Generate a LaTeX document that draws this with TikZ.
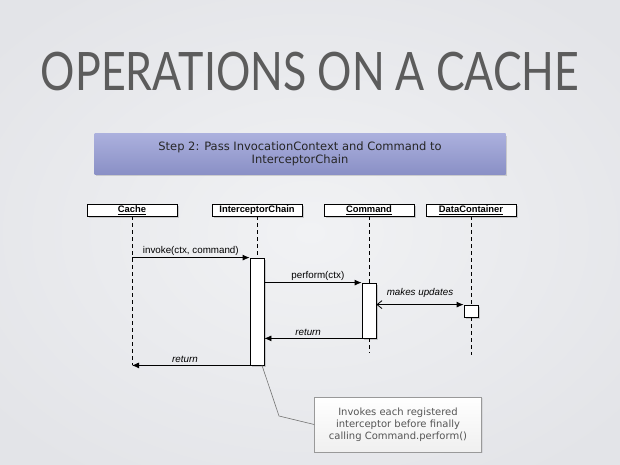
\documentclass[tikz,border=0pt]{standalone}
\usepackage{fontspec}
\setmainfont{DejaVu Sans}
\newfontfamily\titlefont{Lato}
\newfontfamily\arialfont{Liberation Sans}
\usetikzlibrary{positioning, arrows.meta, shadows}
\definecolor{slidebg}{HTML}{E3E4E8}
\definecolor{slidemid}{HTML}{F1F2F4}
\definecolor{bannertop}{HTML}{ABB0DD}
\definecolor{bannerbot}{HTML}{8A90C6}
\definecolor{titlegray}{HTML}{5C5C5C}
\definecolor{notegray}{HTML}{555555}
\tikzset{
  objbox/.style={rectangle, draw=black, line width=0.9pt, fill=white, minimum width=90pt, minimum height=12pt, inner sep=0pt, text height=7pt, text depth=2pt, font=\arialfont\bfseries\fontsize{9.4}{10}\selectfont, drop shadow={shadow xshift=1.5pt, shadow yshift=-2pt, opacity=0.35}},
  actbox/.style={rectangle, draw=black, line width=0.8pt, fill=white, minimum width=14pt, inner sep=0pt, drop shadow={shadow xshift=2pt, shadow yshift=-2pt, opacity=0.35}},
  lifeline/.style={black, line width=0.7pt, dash pattern=on 4pt off 3pt},
  msg/.style={black, line width=0.8pt, -{Latex[length=7pt, width=6pt]}},
  msglabel/.style={midway, above, inner sep=2pt, font=\arialfont\fontsize{9.8}{10}\selectfont},
  notebox/.style={rectangle, draw=gray!80, line width=0.6pt, top color=white, bottom color=gray!12, minimum width=167pt, minimum height=55pt, align=center, text=notegray, font=\fontsize{10}{12}\selectfont},
  noteline/.style={gray!90!black, line width=0.6pt}
}

\begin{document}
\begin{tikzpicture}[x=1pt, y=-1pt]

    % Fondo de la diapositiva
    \useasboundingbox (0,0) rectangle (620,465);
    \fill[slidebg] (0,0) rectangle (620,465);
    \shade[inner color=slidemid, outer color=slidebg] (-100,-60) rectangle (720,525);

    % Titulo
    \node[font=\titlefont\fontsize{53}{53}\selectfont, text=titlegray, xscale=0.81] (title) at (310,72) {OPERATIONS ON A CACHE};

    % Banda del paso
    \node[rectangle, minimum width=411pt, minimum height=40pt, top color=bannertop, bottom color=bannerbot, align=center, font=\fontsize{11.5}{13.5}\selectfont, text=black!85, drop shadow={shadow xshift=1.5pt, shadow yshift=-2pt, opacity=0.3}] (banner) at (300,154) {Step 2: Pass InvocationContext and Command to\\InterceptorChain};

    % Cabeceras de los objetos
    \node[objbox] (cache) at (132,210) {\underline{Cache}};
    \node[objbox] (ic) at (257,210) {\underline{InterceptorChain}};
    \node[objbox] (cmd) at (369,210) {\underline{Command}};
    \node[objbox] (dc) at (471,210) {\underline{DataContainer}};

    % Activaciones
    \node[actbox, minimum height=107pt] (icAct) at (257,311.5) {};
    \node[actbox, minimum height=55pt] (cmdAct) at (369,310.5) {};
    \node[actbox, minimum height=12pt] (dcAct) at (471,311) {};
    \coordinate (cmdEnd) at (369,353);
    \coordinate (dcEnd) at (471,355);

    % Lineas de vida
    \draw[lifeline] (cache.south) -- (cache.south |- icAct.south);
    \draw[lifeline] (ic.south) -- (icAct.north);
    \draw[lifeline] (cmd.south) -- (cmdAct.north);
    \draw[lifeline] (cmdAct.south) -- (cmdEnd);
    \draw[lifeline] (dc.south) -- (dcAct.north);
    \draw[lifeline] (dcAct.south) -- (dcEnd);

    % --- MENSAJES ---
    \draw[msg] (cache.south |- icAct.north) -- (icAct.north west) node[msglabel] {invoke(ctx, command)};
    \draw[msg] (icAct.east |- cmdAct.north) -- (cmdAct.north west) node[msglabel, pos=0.55] {perform(ctx)};
    \draw[msg, {Straight Barb[length=5pt, width=8pt]}-{Latex[length=7pt, width=6pt]}] (cmdAct.east |- dcAct.north) -- (dcAct.north west) node[msglabel, yshift=5pt] {\itshape makes updates};
    \draw[msg] (cmdAct.south west) -- (icAct.east |- cmdAct.south) node[msglabel, pos=0.55] {\itshape return};
    \draw[msg] (icAct.south west) -- (cache.south |- icAct.south) node[msglabel, pos=0.55] {\itshape return};

    % Nota
    \node[notebox, drop shadow={shadow xshift=1pt, shadow yshift=-1pt, opacity=0.15}] (note) at (398,424.5) {Invokes each registered\\interceptor before finally\\calling Command.perform()};
    \coordinate (noteBend) at (279,416);
    \draw[noteline] ([xshift=5pt]icAct.south) -- (noteBend) -- (note.west);

\end{tikzpicture}
\end{document}
